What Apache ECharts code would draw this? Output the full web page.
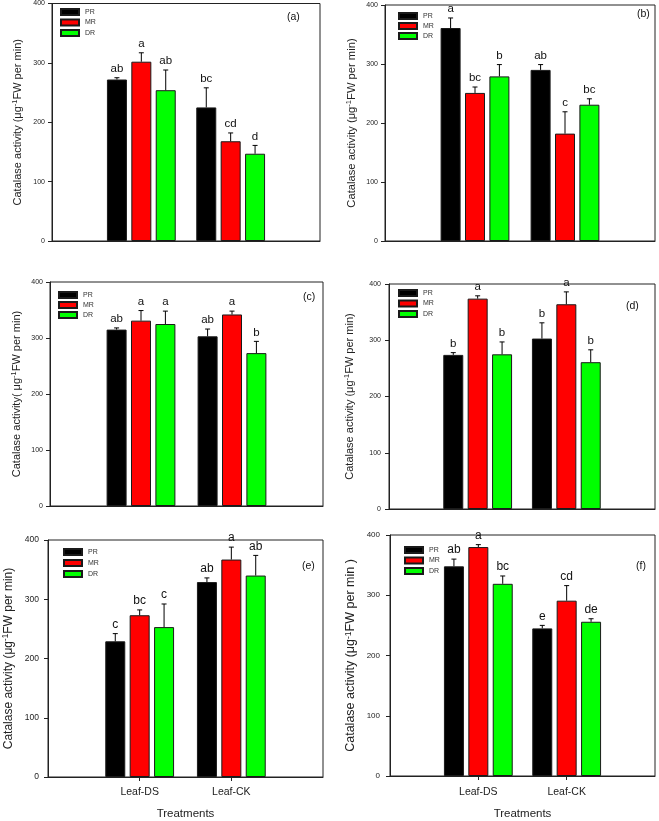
<!DOCTYPE html>
<html><head><meta charset="utf-8">
<script src="https://cdn.jsdelivr.net/npm/echarts@6/dist/echarts.min.js"></script>
<style>html,body{margin:0;padding:0;background:#fff}#c{width:659px;height:821px}</style>
</head><body><div id="c"></div>
<script>
// ---------- DATA ----------
const categories = ['', 'Leaf-DS', 'Leaf-CK', ''];
const seriesNames = ['PR', 'MR', 'DR'];
const yTicks = [0, 100, 200, 300, 400];

// panel (a)
const a_PR = [272, 225], a_PR_err = [3, 33], a_PR_sig = ['ab', 'bc'];
const a_MR = [302, 168], a_MR_err = [15, 14], a_MR_sig = ['a', 'cd'];
const a_DR = [254, 147], a_DR_err = [34, 14], a_DR_sig = ['ab', 'd'];
// panel (b)
const b_PR = [361, 290], b_PR_err = [17, 9], b_PR_sig = ['a', 'ab'];
const b_MR = [251, 182], b_MR_err = [10, 37], b_MR_sig = ['bc', 'c'];
const b_DR = [279, 231], b_DR_err = [20, 10], b_DR_sig = ['b', 'bc'];
// panel (c)
const c_PR = [315, 303], c_PR_err = [3, 13], c_PR_sig = ['ab', 'ab'];
const c_MR = [331, 342], c_MR_err = [18, 6], c_MR_sig = ['a', 'a'];
const c_DR = [325, 273], c_DR_err = [23, 21], c_DR_sig = ['a', 'b'];
// panel (d)
const d_PR = [274, 303], d_PR_err = [4, 28], d_PR_sig = ['b', 'b'];
const d_MR = [374, 364], d_MR_err = [5, 22], d_MR_sig = ['a', 'a'];
const d_DR = [275, 261], d_DR_err = [22, 22], d_DR_sig = ['b', 'b'];
// panel (e)
const e_PR = [229, 329], e_PR_err = [13, 7], e_PR_sig = ['c', 'ab'];
const e_MR = [273, 367], e_MR_err = [9, 21], e_MR_sig = ['bc', 'a'];
const e_DR = [253, 340], e_DR_err = [39, 34], e_DR_sig = ['c', 'ab'];
// panel (f)
const f_PR = [348, 245], f_PR_err = [12, 5], f_PR_sig = ['ab', 'e'];
const f_MR = [380, 291], f_MR_err = [4, 25], f_MR_sig = ['a', 'cd'];
const f_DR = [319, 256], f_DR_err = [13, 5], f_DR_sig = ['bc', 'de'];

const panelLabels = ['(a)', '(b)', '(c)', '(d)', '(e)', '(f)'];
const yNames = [
  ['Catalase activity (μg', '-1', 'FW per min)'],
  ['Catalase activity (μg', '-1', 'FW per min)'],
  ['Catalase activity( μg', '-1', 'FW per min)'],
  ['Catalase activity (μg', '-1', 'FW per min)'],
  ['Catalase activity (μg', '-1', 'FW per min)'],
  ['Catalase activity (μg', '-1', 'FW per min )']
];
const xName = 'Treatments';

// ---------- LAYOUT / STYLE ----------
const W = 659, H = 821;
const FONT = '"Liberation Sans", Arial, Helvetica, sans-serif';
const colors = { PR: '#000000', MR: '#ff0000', DR: '#00ff00' };

const panelData = [
  { PR: [a_PR, a_PR_err, a_PR_sig], MR: [a_MR, a_MR_err, a_MR_sig], DR: [a_DR, a_DR_err, a_DR_sig] },
  { PR: [b_PR, b_PR_err, b_PR_sig], MR: [b_MR, b_MR_err, b_MR_sig], DR: [b_DR, b_DR_err, b_DR_sig] },
  { PR: [c_PR, c_PR_err, c_PR_sig], MR: [c_MR, c_MR_err, c_MR_sig], DR: [c_DR, c_DR_err, c_DR_sig] },
  { PR: [d_PR, d_PR_err, d_PR_sig], MR: [d_MR, d_MR_err, d_MR_sig], DR: [d_DR, d_DR_err, d_DR_sig] },
  { PR: [e_PR, e_PR_err, e_PR_sig], MR: [e_MR, e_MR_err, e_MR_sig], DR: [e_DR, e_DR_err, e_DR_sig] },
  { PR: [f_PR, f_PR_err, f_PR_sig], MR: [f_MR, f_MR_err, f_MR_sig], DR: [f_DR, f_DR_err, f_DR_sig] }
];

const layouts = [
  { box: [52, 3, 320, 241],   yGap: 27, yFont: 11, tickFont: 7, tickMargin: 7, sigFont: 11.5, legend: [60, 8, 2.5],  lab: [287, 12], xLab: false },
  { box: [385, 5, 655, 241],  yGap: 26, yFont: 11.2, tickFont: 7, tickMargin: 7, sigFont: 11.5, legend: [398, 12, 2],  lab: [637, 9],  xLab: false },
  { box: [50, 282, 323, 506], yGap: 26, yFont: 11, tickFont: 7, tickMargin: 7, sigFont: 11.5, legend: [58, 291, 2],  lab: [303, 292], xLab: false },
  { box: [389, 284, 655, 509],yGap: 32, yFont: 11, tickFont: 7, tickMargin: 8, sigFont: 11.5, legend: [398, 289, 2.5],lab: [626, 301], xLab: false },
  { box: [48, 540, 323, 777], yGap: 32, yFont: 12, tickFont: 8.5, tickMargin: 9, sigFont: 12, legend: [63, 548, 3], lab: [302, 561], xLab: true, xMargin: 10, xNameGap: 31 },
  { box: [390, 535, 655, 781],yGap: 32, yFont: 12.5, tickFont: 8, tickMargin: 10, sigFont: 12, legend: [404, 546, 2.5],lab: [636, 561], xLab: true, xMargin: 11, xNameGap: 32 }
];

const BAR_W = 20, BAR_GAP = 0.22;
const STEP = BAR_W * (1 + BAR_GAP);

const grid = [], xAxis = [], yAxis = [], series = [], legend = [], title = [];

layouts.forEach((L, p) => {
  const [x1, y1, x2, y2] = L.box;
  grid.push({ left: x1, top: y1, right: W - x2, bottom: H - y2, show: true, borderColor: '#222', borderWidth: 1, backgroundColor: 'transparent' });
  const showIdx = (i) => i === 1 || i === 2;
  xAxis.push({
    type: 'category', gridIndex: p, data: categories, boundaryGap: false,
    axisLine: { show: true, lineStyle: { color: '#222', width: 1 } },
    axisTick: { show: L.xLab, length: 4, interval: (i) => showIdx(i), lineStyle: { color: '#222' } },
    axisLabel: { show: L.xLab, interval: (i) => showIdx(i), fontSize: 10.5, fontFamily: FONT, color: '#222', margin: L.xMargin || 8 },
    name: L.xLab ? xName : '', nameLocation: 'middle', nameGap: L.xNameGap || 30,
    nameTextStyle: { fontSize: 11.5, fontFamily: FONT, color: '#222' },
    splitLine: { show: false }
  });
  const yn = yNames[p];
  yAxis.push({
    type: 'value', gridIndex: p, min: yTicks[0], max: yTicks[yTicks.length - 1], interval: yTicks[1] - yTicks[0],
    axisLine: { show: true, lineStyle: { color: '#222', width: 1 } },
    axisTick: { show: true, length: 4, lineStyle: { color: '#222' } },
    axisLabel: { fontSize: L.tickFont, fontFamily: FONT, color: '#222', margin: L.tickMargin },
    splitLine: { show: false },
    name: '{a|' + yn[0] + '}{s|' + yn[1] + '}{a|' + yn[2] + '}',
    nameLocation: 'middle', nameRotate: 90, nameGap: L.yGap,
    nameTextStyle: {
      color: '#222', fontFamily: FONT,
      rich: {
        a: { fontSize: L.yFont, fontFamily: FONT, color: '#222', lineHeight: 14 },
        s: { fontSize: L.yFont * 0.68, fontFamily: FONT, color: '#222', lineHeight: 8, verticalAlign: 'top' }
      }
    }
  });
  legend.push({
    left: L.legend[0], top: L.legend[1], orient: 'vertical', padding: 0,
    itemWidth: 18, itemHeight: 6, itemGap: L.legend[2], icon: 'rect', selectedMode: false,
    data: seriesNames,
    textStyle: { fontSize: 7, fontFamily: FONT, color: '#333', lineHeight: 8, padding: [0, 0, 0, 1] }
  });
  title.push({
    text: panelLabels[p], left: L.lab[0], top: L.lab[1], padding: 0,
    textStyle: { fontSize: 10.5, fontWeight: 'normal', fontFamily: FONT, color: '#111' }
  });

  const pd = panelData[p];
  seriesNames.forEach((nm) => {
    const [vals] = pd[nm];
    series.push({
      type: 'bar', name: nm, xAxisIndex: p, yAxisIndex: p,
      barWidth: BAR_W, barGap: (BAR_GAP * 100) + '%',
      data: vals.map((v, i) => [i + 1, v]),
      itemStyle: { color: colors[nm], borderColor: '#1a1a1a', borderWidth: 1 },
      emphasis: { disabled: true }, animation: false
    });
  });
  seriesNames.forEach((nm, s) => {
    const [vals, errs, sigs] = pd[nm];
    series.push({
      type: 'custom', xAxisIndex: p, yAxisIndex: p, z: 5, clip: false, silent: true, animation: false,
      data: vals.map((v, i) => [i + 1, v, errs[i]]),
      encode: { x: 0, y: 1 },
      renderItem: (params, api) => {
        const xi = api.value(0), v = api.value(1), e = api.value(2);
        const base = api.coord([xi, v]);
        const top = api.coord([xi, v + e]);
        const cx = base[0] + (s - 1) * STEP;
        return {
          type: 'group', children: [
            { type: 'line', shape: { x1: cx, y1: base[1], x2: cx, y2: top[1] }, style: { stroke: '#000', lineWidth: 1 } },
            { type: 'line', shape: { x1: cx - 2.5, y1: top[1], x2: cx + 2.5, y2: top[1] }, style: { stroke: '#000', lineWidth: 1 } },
            { type: 'text', x: cx, y: top[1] - 9, style: { text: sigs[params.dataIndex], fill: '#111', fontSize: L.sigFont, fontFamily: FONT, align: 'center', verticalAlign: 'middle' } }
          ]
        };
      }
    });
  });
});

const chart = echarts.init(document.getElementById('c'), null, { renderer: 'canvas', width: W, height: H });
chart.setOption({ backgroundColor: '#fff', animation: false, grid, xAxis, yAxis, series, legend, title });
</script>
</body></html>
